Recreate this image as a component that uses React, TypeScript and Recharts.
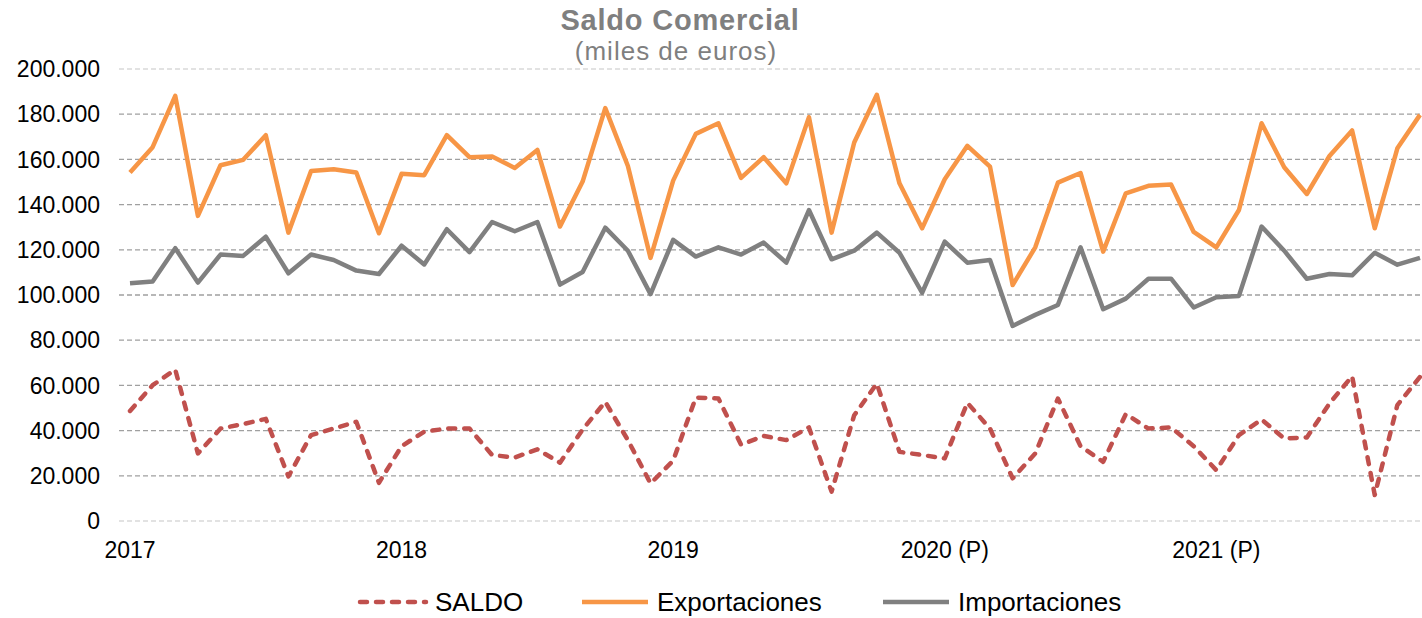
import React from 'react'
import { LineChart, Line, XAxis, YAxis, CartesianGrid } from 'recharts'

// meses ene-2017 .. oct-2021 (miles de euros)
const meses = ['ene', 'feb', 'mar', 'abr', 'may', 'jun', 'jul', 'ago', 'sep', 'oct', 'nov', 'dic']
const anios = ['17', '18', '19', '20', '21']
const categorias = anios.flatMap((a) => meses.map((m) => `${m}-${a}`)).slice(0, 58)

const etiquetasAnio: Record<string, string> = {
  'ene-17': '2017',
  'ene-18': '2018',
  'ene-19': '2019',
  'ene-20': '2020 (P)',
  'ene-21': '2021 (P)'
}

const saldo = [
  48700, 60100, 67000, 29900, 40900, 42900, 45200, 19700, 38000, 40900, 43900, 16900,
  33100, 39500, 40900, 40900, 29200, 28100, 31700, 25800, 40500, 52700, 35800, 16600,
  26700, 54600, 54200, 33800, 37600, 35800, 41400, 13000, 46800, 60800, 30600, 29200,
  27700, 52300, 40900, 18900, 29900, 54200, 33100, 26200, 47300, 40900, 41400, 33100,
  22500, 38000, 44900, 36500, 37000, 52000, 64100, 11500, 51300, 63800
]

const exportaciones = [
  154200, 165400, 188100, 135000, 157400, 159800, 170700, 127600, 154900, 155600, 154200, 127300,
  153600, 153000, 170700, 161000, 161300, 156200, 164200, 130300, 150200, 182700, 157100, 116400,
  150600, 171300, 176000, 151800, 161000, 149400, 178700, 127600, 167500, 188600, 149400, 129500,
  151200, 166000, 156800, 104400, 121100, 149700, 154000, 119200, 145000, 148300, 148900, 127900,
  121100, 137600, 176000, 156500, 144700, 161500, 172800, 129500, 164900, 179700
]

const importaciones = [
  105200, 106000, 120700, 105500, 117900, 117300, 125800, 109600, 117900, 115500, 110800, 109300,
  121800, 113500, 129100, 119000, 132300, 128200, 132300, 104600, 110200, 129800, 119600, 100400,
  124400, 117000, 121100, 117900, 123200, 114300, 137600, 115800, 119600, 127600, 118700, 101000,
  123600, 114300, 115500, 86300, 91200, 95600, 121100, 93700, 98400, 107200, 107200, 94500,
  99000, 99600, 130300, 119600, 107200, 109300, 108700, 118700, 113400, 116400
]

const yTicks = [0, 20000, 40000, 60000, 80000, 100000, 120000, 140000, 160000, 180000, 200000]

const data = categorias.map((mes, i) => ({
  mes,
  saldo: saldo[i],
  exportaciones: exportaciones[i],
  importaciones: importaciones[i]
}))

const FONT = '"Liberation Sans", Arial, sans-serif'
const ROJO = '#C0504D'
const NARANJA = '#F79646'
const GRIS = '#808080'

const fmtMiles = (v: number) => String(v).replace(/\B(?=(\d{3})+(?!\d))/g, '.')

const gridLine = (props: any) => {
  const { x1, y1, x2, y2, index } = props
  const borde = index === 0 || index === yTicks.length - 1
  return (
    <line
      key={`g-${index}`}
      x1={x1}
      y1={y1}
      x2={x2}
      y2={y2}
      stroke={borde ? '#D9D9D9' : '#A0A0A0'}
      strokeWidth={1.3}
      strokeDasharray="5 3"
    />
  )
}

const leyenda = [
  { nombre: 'SALDO', color: ROJO, dash: '7 9', x: 358 },
  { nombre: 'Exportaciones', color: NARANJA, dash: undefined, x: 580 },
  { nombre: 'Importaciones', color: GRIS, dash: undefined, x: 881 }
]

const App = () => {
  return (
    <div
      style={{
        position: 'absolute',
        left: 0,
        top: 0,
        width: 1422,
        height: 618,
        overflow: 'hidden',
        background: '#fff',
        fontFamily: FONT
      }}
    >
      <div
        style={{
          position: 'absolute',
          left: 0,
          width: 1360,
          top: 6,
          textAlign: 'center',
          fontSize: 29,
          lineHeight: '29px',
          fontWeight: 'bold',
          letterSpacing: 0.8,
          color: '#7F7F7F'
        }}
      >
        Saldo Comercial
      </div>
      <div
        style={{
          position: 'absolute',
          left: 0,
          width: 1352,
          top: 38,
          textAlign: 'center',
          fontSize: 26,
          lineHeight: '26px',
          letterSpacing: 1,
          color: '#7F7F7F'
        }}
      >
        (miles de euros)
      </div>

      <LineChart
        width={1422}
        height={618}
        data={data}
        margin={{ top: 69, right: 0, bottom: 57, left: 0 }}
      >
        <CartesianGrid vertical={false} horizontal={gridLine} />
        <XAxis
          dataKey="mes"
          interval={0}
          padding={{ left: 11, right: 2 }}
          axisLine={false}
          tickLine={false}
          tickSize={0}
          tickMargin={21}
          height={40}
          tickFormatter={(v: string) => etiquetasAnio[v] ?? ''}
          tick={{ fill: '#000', fontSize: 23, fontFamily: FONT }}
        />
        <YAxis
          domain={[0, 200000]}
          ticks={yTicks}
          width={119}
          axisLine={false}
          tickLine={false}
          tickSize={0}
          tickMargin={19}
          tickFormatter={fmtMiles}
          tick={{ fill: '#000', fontSize: 23, fontFamily: FONT }}
        />
        <Line
          type="linear"
          dataKey="saldo"
          name="SALDO"
          stroke={ROJO}
          strokeWidth={4.5}
          strokeDasharray="7 9"
          strokeLinecap="round"
          strokeLinejoin="round"
          dot={false}
          isAnimationActive={false}
        />
        <Line
          type="linear"
          dataKey="exportaciones"
          name="Exportaciones"
          stroke={NARANJA}
          strokeWidth={4.5}
          strokeLinejoin="round"
          dot={false}
          isAnimationActive={false}
        />
        <Line
          type="linear"
          dataKey="importaciones"
          name="Importaciones"
          stroke={GRIS}
          strokeWidth={4.5}
          strokeLinejoin="round"
          dot={false}
          isAnimationActive={false}
        />
      </LineChart>

      <svg
        width={1422}
        height={40}
        style={{ position: 'absolute', left: 0, top: 582 }}
      >
        {leyenda.map((l) => (
          <g key={l.nombre}>
            <line
              x1={l.x + 2}
              x2={l.x + 68}
              y1={20}
              y2={20}
              stroke={l.color}
              strokeWidth={4.5}
              strokeDasharray={l.dash}
              strokeLinecap={l.dash ? 'round' : 'butt'}
            />
            <text x={l.x + 77} y={29} fontSize={26} fontFamily={FONT} fill="#000">
              {l.nombre}
            </text>
          </g>
        ))}
      </svg>
    </div>
  )
}

export default App
